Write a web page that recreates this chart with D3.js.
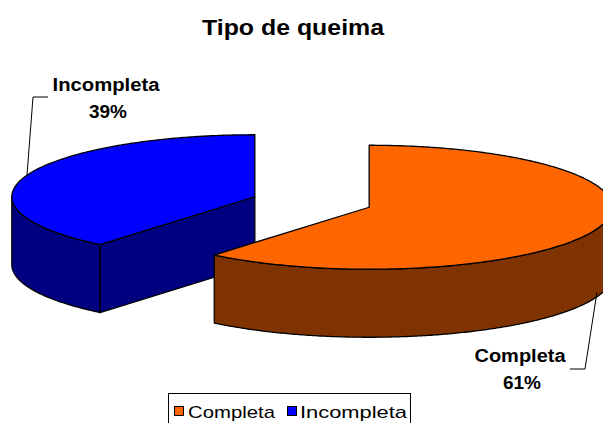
<!DOCTYPE html>
<html>
<head>
<meta charset="utf-8">
<script src="https://cdn.jsdelivr.net/npm/d3@7"></script>
<style>
  html, body { margin: 0; padding: 0; background: #fff; }
  svg { display: block; }
</style>
</head>
<body>
<svg id="chart" width="603" height="423"></svg>
<script>
// Chart data
const chartTitle = "Tipo de queima";
const categories = ["Completa", "Incompleta"];
const values = [61, 39];
const topColors = ["#FF6600", "#0000FF"];
const sideColors = ["#7F3300", "#000080"];

const svg = d3.select("#chart");
const font = "'Liberation Sans', Arial, Helvetica, sans-serif";

// 3D pie geometry: ellipse radii, thickness and slice explosion
const cx = 312, cy = 202, rx = 243, ry = 62, depth = 68, explode = 0.25;

const pie = d3.pie().sort(null).value(d => d.value).startAngle(0).endAngle(2 * Math.PI);
const slices = pie(categories.map((c, i) => ({ name: c, value: values[i], i })));
const total = d3.sum(values);
const pct = d3.format(".0%");

const line = d3.line();
function pt(c, a, dy = 0) { return [c[0] + rx * Math.sin(a), c[1] - ry * Math.cos(a) + dy]; }
function arcPts(c, a0, a1, dy = 0) {
  const n = Math.max(2, Math.ceil(Math.abs(a1 - a0) / 0.01));
  return d3.range(n + 1).map(k => pt(c, a0 + (a1 - a0) * k / n, dy));
}

slices.forEach(s => {
  const mid = (s.startAngle + s.endAngle) / 2;
  s.center = [cx + explode * rx * Math.sin(mid), cy - explode * ry * Math.cos(mid)];
});

// back slices first
const order = slices.slice().sort((a, b) => a.center[1] - b.center[1]);
const gPie = svg.append("g");

order.forEach(s => {
  const c = s.center, a0 = s.startAngle, a1 = s.endAngle, i = s.data.i;
  const g = gPie.append("g");
  const style = sel => sel.attr("stroke", "#000").attr("stroke-width", 1.3).attr("stroke-linejoin", "round");

  // radial walls facing the viewer
  [[a0, a0 - Math.PI / 2], [a1, a1 + Math.PI / 2]].forEach(([a, n]) => {
    if (Math.cos(n) < -1e-6) {
      const p = pt(c, a);
      g.append("path")
        .attr("d", line([c, p, [p[0], p[1] + depth], [c[0], c[1] + depth]]) + "Z")
        .attr("fill", sideColors[i]).call(style);
    }
  });

  // outer curved wall (front half only)
  const s0 = Math.max(a0, Math.PI / 2), s1 = Math.min(a1, 3 * Math.PI / 2);
  if (s1 > s0) {
    const pts = arcPts(c, s0, s1).concat(arcPts(c, s1, s0, depth));
    g.append("path").attr("d", line(pts) + "Z").attr("fill", sideColors[i]).call(style);
  }

  // top face
  g.append("path")
    .attr("d", line([c].concat(arcPts(c, a0, a1))) + "Z")
    .attr("fill", topColors[i]).call(style);
});

// Title
svg.append("text")
  .attr("x", 293).attr("y", 35)
  .attr("text-anchor", "middle")
  .attr("font-family", font).attr("font-size", 22).attr("font-weight", "bold")
  .attr("textLength", 182).attr("lengthAdjust", "spacingAndGlyphs")
  .text(chartTitle);

// Data labels with leader lines
const labelSpec = {
  "Completa": { x: 520, y: 362, w: 91, leader: [[570, 369], [585, 369], [597, 292]] },
  "Incompleta": { x: 106, y: 91, w: 107, leader: [[48, 97], [33, 97], [27, 175]] }
};
slices.forEach(s => {
  const L = labelSpec[s.data.name];
  svg.append("path").attr("d", line(L.leader))
    .attr("fill", "none").attr("stroke", "#000").attr("stroke-width", 1);
  const t = svg.append("text")
    .attr("font-family", font).attr("font-size", 18).attr("font-weight", "bold")
    .attr("text-anchor", "middle").attr("fill", "#000");
  t.append("tspan").attr("x", L.x).attr("y", L.y)
    .attr("textLength", L.w).attr("lengthAdjust", "spacingAndGlyphs").text(s.data.name);
  t.append("tspan").attr("x", L.x + 2).attr("y", L.y + 27)
    .attr("textLength", 38).attr("lengthAdjust", "spacingAndGlyphs")
    .text(pct(s.data.value / total));
});

// Legend
const lg = svg.append("g");
lg.append("rect").attr("x", 168.5).attr("y", 393.5).attr("width", 242).attr("height", 40)
  .attr("fill", "#fff").attr("stroke", "#000").attr("stroke-width", 1);
const legendItems = [
  { x: 174, tx: 188, tw: 87 },
  { x: 287, tx: 300, tw: 107 }
];
categories.forEach((c, i) => {
  const it = legendItems[i];
  lg.append("rect").attr("x", it.x + 0.5).attr("y", 406.5).attr("width", 9).attr("height", 9)
    .attr("fill", topColors[i]).attr("stroke", "#000").attr("stroke-width", 1);
  lg.append("text").attr("x", it.tx).attr("y", 418)
    .attr("font-family", font).attr("font-size", 17)
    .attr("textLength", it.tw).attr("lengthAdjust", "spacingAndGlyphs")
    .text(c);
});
</script>
</body>
</html>
